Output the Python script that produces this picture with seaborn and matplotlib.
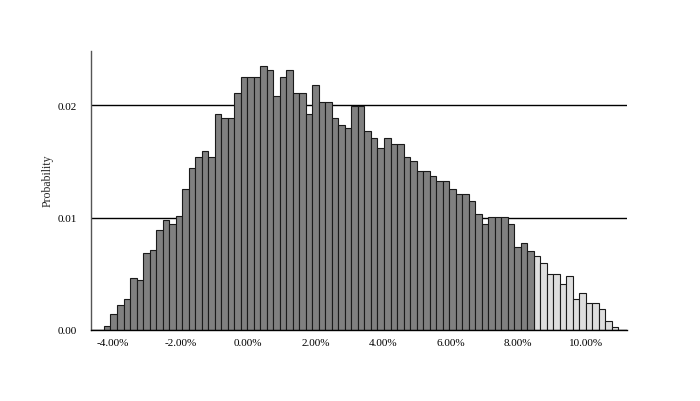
#!/usr/bin/env python3
import numpy as np
import matplotlib
matplotlib.use("Agg")
import matplotlib.pyplot as plt
import seaborn as sns
import pandas as pd

# Histogram of simulated returns [%], one probability per bin.
BIN_LEFT = -4.256    # left edge of first bin [%]
BIN_WIDTH = 0.1927   # bin width [%]
PROB = [
    0.00033, 0.00142, 0.00223, 0.00273, 0.00460, 0.00445, 0.00682, 0.00709,
    0.00890, 0.00976, 0.00944, 0.01015, 0.01252, 0.01442, 0.01537, 0.01591,
    0.01537, 0.01920, 0.01884, 0.01884, 0.02104, 0.02249, 0.02249, 0.02249,
    0.02347, 0.02312, 0.02077, 0.02249, 0.02312, 0.02104, 0.02104, 0.01920,
    0.02178, 0.02027, 0.02027, 0.01884, 0.01822, 0.01795, 0.01994, 0.01994,
    0.01769, 0.01706, 0.01617, 0.01706, 0.01650, 0.01650, 0.01537, 0.01501,
    0.01412, 0.01412, 0.01368, 0.01323, 0.01323, 0.01252, 0.01208, 0.01208,
    0.01151, 0.01033, 0.00944, 0.01000, 0.01000, 0.01000, 0.00944, 0.00736,
    0.00772, 0.00706, 0.00656, 0.00593, 0.00501, 0.00501, 0.00412, 0.00478,
    0.00273, 0.00326, 0.00237, 0.00237, 0.00184, 0.00077, 0.00030,
]
# bins right of this return are shaded light
CUTOFF = 8.46

XTICKS = [-4, -2, 0, 2, 4, 6, 8, 10]
YTICKS = [0.0, 0.01, 0.02]
YLABEL = "Probability"

DARK = "#808080"
LIGHT = "#dedede"


def main():
    edges = BIN_LEFT + BIN_WIDTH * np.arange(len(PROB) + 1)
    centers = (edges[:-1] + edges[1:]) / 2
    df = pd.DataFrame({
        "ret": centers,
        "prob": PROB,
        "zone": np.where(centers > CUTOFF, "tail", "body"),
    })

    sns.set_style("white")
    plt.rcParams["font.family"] = ["Liberation Serif", "DejaVu Serif"]

    fig = plt.figure(figsize=(7.0, 4.02), dpi=100)
    ax = fig.add_axes([91 / 700, 1 - 331 / 402, 536 / 700, 279 / 402])

    ax.set_axisbelow(True)
    ax.grid(axis="y", color="black", linewidth=1.0)
    ax.grid(axis="x", visible=False)

    # seaborn chokes on an ndarray for bins together with weights -> list
    sns.histplot(
        data=df, x="ret", weights="prob", bins=edges.tolist(),
        hue="zone", hue_order=["body", "tail"],
        palette={"body": DARK, "tail": LIGHT},
        multiple="layer", alpha=1, edgecolor="#1a1a1a", linewidth=0.8,
        legend=False, ax=ax,
    )

    ax.set_xlim(-4.64, 11.22)
    ax.set_ylim(0, 0.0248)
    ax.set_xticks(XTICKS)
    ax.set_xticklabels([f"{t:.2f}%" for t in XTICKS])
    ax.set_yticks(YTICKS)
    ax.set_yticklabels([f"{t:.2f}" for t in YTICKS])
    ax.tick_params(axis="both", length=0, labelsize=8, colors="black")
    ax.tick_params(axis="y", pad=10)
    ax.tick_params(axis="x", pad=6)

    ax.set_xlabel("")
    ax.set_ylabel(YLABEL, fontsize=8.5)
    ax.yaxis.set_label_coords(-0.070, 0.537)

    for side in ["top", "right"]:
        ax.spines[side].set_visible(False)
    ax.spines["left"].set_color("#555555")
    ax.spines["left"].set_linewidth(1.0)
    ax.spines["bottom"].set_color("black")
    ax.spines["bottom"].set_linewidth(1.0)

    fig.savefig("out.png", dpi=100)
    plt.close()


if __name__ == "__main__":
    main()
